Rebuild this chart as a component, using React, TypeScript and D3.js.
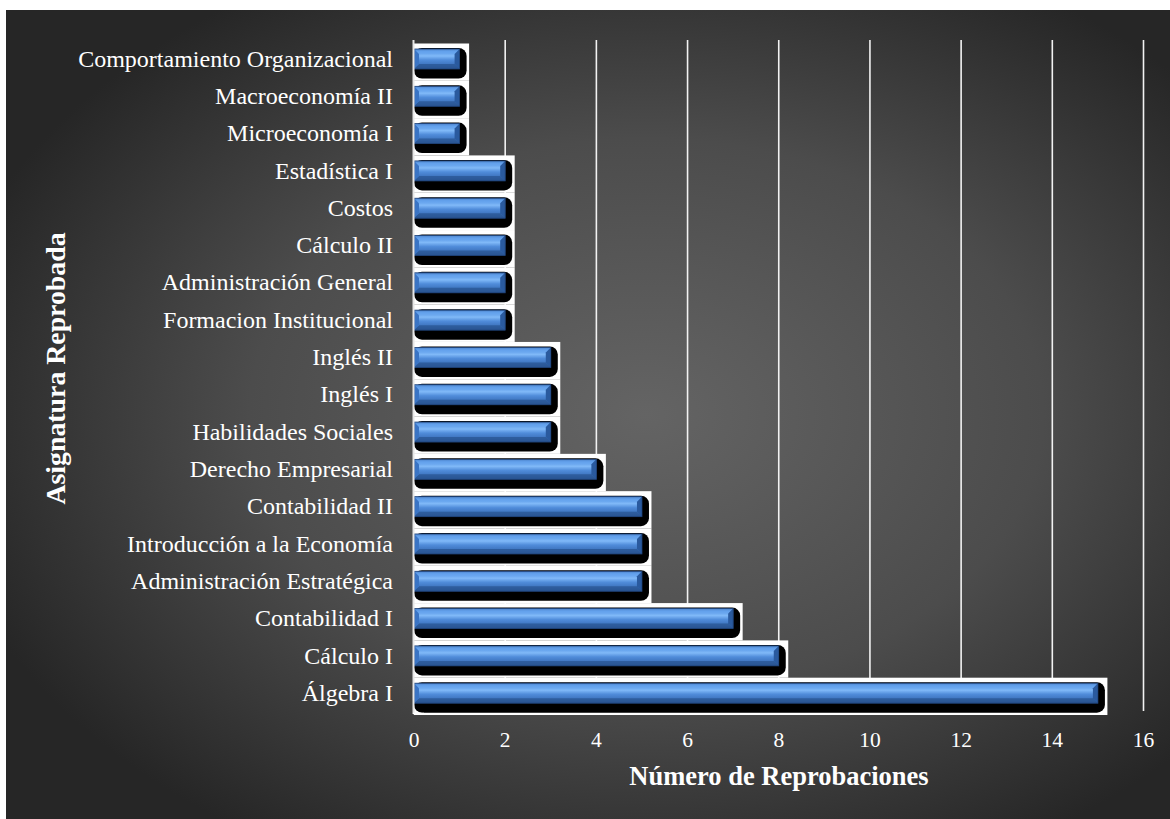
import React from "react";
import * as d3 from "d3";

const categories = [
  "Comportamiento Organizacional",
  "Macroeconomía II",
  "Microeconomía I",
  "Estadística I",
  "Costos",
  "Cálculo II",
  "Administración General",
  "Formacion Institucional",
  "Inglés II",
  "Inglés I",
  "Habilidades Sociales",
  "Derecho Empresarial",
  "Contabilidad II",
  "Introducción a la Economía",
  "Administración Estratégica",
  "Contabilidad I",
  "Cálculo I",
  "Álgebra I",
];
const values = [1, 1, 1, 2, 2, 2, 2, 2, 3, 3, 3, 4, 5, 5, 5, 7, 8, 15];
const xTicks = [0, 2, 4, 6, 8, 10, 12, 14, 16];
const xTitle = "Número de Reprobaciones";
const yTitle = "Asignatura Reprobada";

const W = 1170;
const H = 819;
const FONT = "Liberation Serif, Times New Roman, serif";

export default function App() {
  const x = d3.scaleLinear().domain([0, 16]).range([414, 1143.5]);
  const y = d3.scaleBand<string>().domain(categories).range([40.5, 712]).paddingInner(0);
  const bw = y.bandwidth();
  const x0 = x(0);
  const bev = 5;
  const bh = 20;

  return (
    <svg
      width={W}
      height={H}
      style={{ position: "absolute", left: 0, top: 0, display: "block", fontFamily: FONT }}
      xmlns="http://www.w3.org/2000/svg"
    >
      <defs>
        <radialGradient id="bg" cx="0.55" cy="0.5" r="0.62">
          <stop offset="0%" stopColor="#646464" />
          <stop offset="55%" stopColor="#4c4c4c" />
          <stop offset="100%" stopColor="#262626" />
        </radialGradient>
        <linearGradient id="blue" x1="0" y1="0" x2="0" y2="1">
          <stop offset="0%" stopColor="#2c5aa0" />
          <stop offset="12%" stopColor="#5a98e6" />
          <stop offset="35%" stopColor="#80b9f8" />
          <stop offset="55%" stopColor="#508cda" />
          <stop offset="80%" stopColor="#3d73bd" />
          <stop offset="100%" stopColor="#284f8c" />
        </linearGradient>
      </defs>
      <rect x={0} y={0} width={W} height={H} fill="#ffffff" />
      <rect x={6} y={10} width={W - 6} height={H - 10} fill="url(#bg)" />

      {xTicks.slice(1).map((t) => (
        <line key={"g" + t} x1={x(t)} x2={x(t)} y1={40} y2={711} stroke="#f2f2f2" strokeWidth={1.6} />
      ))}

      {categories.map((c, i) => {
        const y0 = y(c)!;
        const xe = x(values[i]);
        const w = xe - x0;
        const bt = y0 + 8.5;
        return (
          <g key={c}>
            <rect x={x0} y={y0 + 3} width={w + 9.5} height={bw} fill="#ffffff" />
            <rect x={x0} y={bt - 1} width={w + 7} height={bh + 10.5} rx={8} ry={8} fill="#000000" />
            <rect x={x0} y={bt} width={w} height={bh} fill="url(#blue)" />
            <polygon
              points={`${x0},${bt} ${xe},${bt} ${xe - bev},${bt + bev} ${x0 + bev},${bt + bev}`}
              fill="#6aa8f0"
              opacity={0.55}
            />
            <polygon
              points={`${x0},${bt + bh} ${xe},${bt + bh} ${xe - bev},${bt + bh - bev} ${x0 + bev},${bt + bh - bev}`}
              fill="#2a5593"
              opacity={0.75}
            />
            <polygon
              points={`${x0},${bt} ${x0 + bev},${bt + bev} ${x0 + bev},${bt + bh - bev} ${x0},${bt + bh}`}
              fill="#3a74c4"
            />
            <polygon
              points={`${xe},${bt} ${xe - bev},${bt + bev} ${xe - bev},${bt + bh - bev} ${xe},${bt + bh}`}
              fill="#2a5a9e"
            />
            <rect x={x0} y={bt} width={w} height={bh} fill="none" stroke="#1f4278" strokeWidth={0.8} />
          </g>
        );
      })}

      <line x1={x0 - 0.5} x2={x0 - 0.5} y1={40} y2={714} stroke="#e6e6e6" strokeWidth={2} />
      <line x1={x0 - 1} x2={x0 + 10} y1={713.5} y2={713.5} stroke="#ffffff" strokeWidth={1.5} />

      {categories.map((c) => (
        <text
          key={"l" + c}
          x={393}
          y={y(c)! + bw / 2 + 7.5}
          textAnchor="end"
          fill="#ffffff"
          style={{ fontFamily: FONT, fontSize: "24px" }}
        >
          {c}
        </text>
      ))}

      {xTicks.map((t) => (
        <text
          key={"t" + t}
          x={x(t)}
          y={747}
          textAnchor="middle"
          fill="#ffffff"
          style={{ fontFamily: FONT, fontSize: "21.5px" }}
        >
          {t}
        </text>
      ))}

      <text
        x={779}
        y={785}
        textAnchor="middle"
        fill="#ffffff"
        style={{ fontFamily: FONT, fontSize: "26.5px", fontWeight: "bold" }}
      >
        {xTitle}
      </text>
      <text
        transform={`translate(65,${368.5}) rotate(-90)`}
        textAnchor="middle"
        fill="#ffffff"
        style={{ fontFamily: FONT, fontSize: "27.8px", fontWeight: "bold" }}
      >
        {yTitle}
      </text>
    </svg>
  );
}
